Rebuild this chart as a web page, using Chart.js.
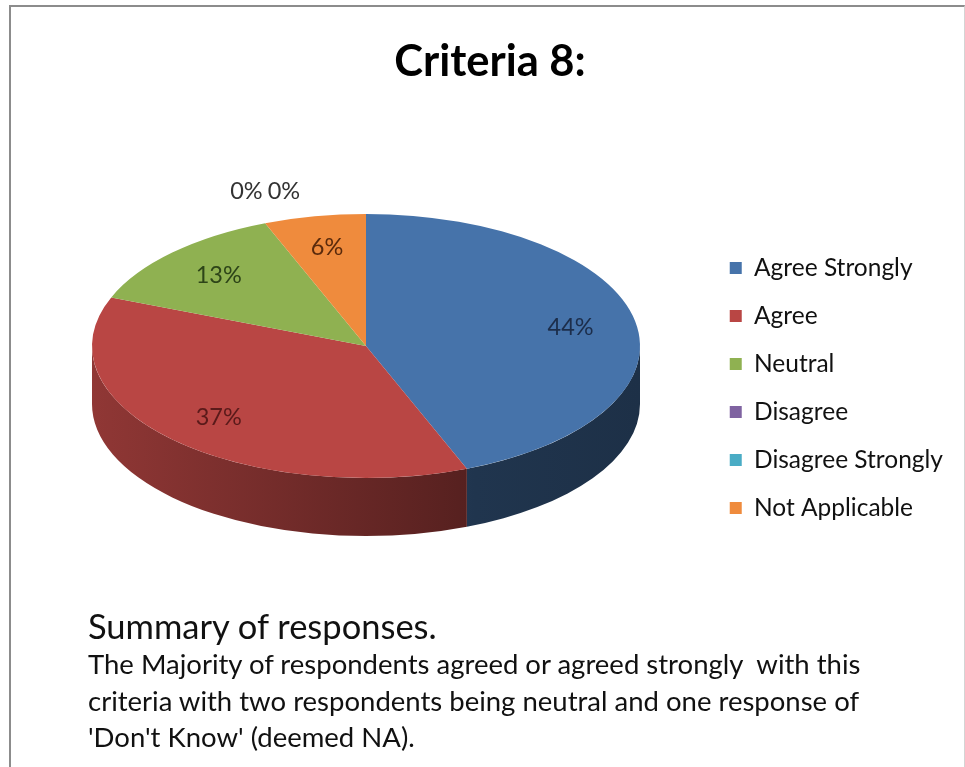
<!DOCTYPE html>
<html><head><meta charset="utf-8">
<script src="https://cdn.jsdelivr.net/npm/chart.js@4.4.1/dist/chart.umd.min.js"></script>
<style>
html,body{margin:0;padding:0;background:#fff;width:965px;height:767px;overflow:hidden;}
#frame{position:absolute;left:9px;top:5px;width:953px;height:790px;border-left:2px solid #8c8c8c;border-top:2px solid #8c8c8c;border-right:1px solid #d4d4d4;}
#c{position:absolute;left:0;top:0;}
#summary{position:absolute;left:88px;top:606px;font-family:Lato,'Open Sans',sans-serif;color:#111;}
#summary .h{font-size:34.5px;line-height:40px;}
#summary .b{font-size:27.5px;line-height:36.5px;}
</style></head><body>
<div id="frame"></div>
<canvas id="c" width="965" height="767"></canvas>
<div id="summary"><div class="h">Summary of responses.</div><div class="b">The Majority of respondents agreed or agreed strongly&nbsp; with this<br>criteria with two respondents being neutral and one response of<br>'Don't Know' (deemed NA).</div></div>
<script>
const chartTitle = 'Criteria 8:';
const categories = ['Agree Strongly', 'Agree', 'Neutral', 'Disagree', 'Disagree Strongly', 'Not Applicable'];
const percentages = [44, 37, 13, 0, 0, 6];
const sliceColors = ['#4673aa', '#b94644', '#8fb151', '#7f63a1', '#4aacc5', '#ef8b3d'];
const labelColors = ['#1c2d4a', '#5a1a1a', '#2d4418', '#333333', '#333333', '#5a2a0c'];

const VIEW = {cx: 366, cy: 346, tilt: 0.482, depth: 58, labelFrac: 0.76};

function shade(hex, f) {
  const n = parseInt(hex.slice(1), 16);
  const r = Math.round(((n >> 16) & 255) * f), g = Math.round(((n >> 8) & 255) * f), b = Math.round((n & 255) * f);
  return `rgb(${r},${g},${b})`;
}

const pie3d = {
  id: 'pie3d',
  beforeDatasetsDraw(chart) {
    const ctx = chart.ctx;
    const meta = chart.getDatasetMeta(0);
    const arc0 = meta.data[0];
    const rx = arc0.outerRadius, ry = rx * VIEW.tilt;
    const {cx, cy, depth} = VIEW;
    meta.data.forEach((arc) => {
      const a = Math.max(arc.startAngle, 0), b = Math.min(arc.endAngle, Math.PI);
      if (b <= a) return;
      const col = arc.options.backgroundColor;
      const g = ctx.createLinearGradient(cx - rx, 0, cx + rx, 0);
      g.addColorStop(0, shade(col, 0.78));
      g.addColorStop(0.7, shade(col, 0.46));
      g.addColorStop(1, shade(col, 0.42));
      ctx.beginPath();
      ctx.ellipse(cx, cy, rx, ry, 0, a, b, false);
      ctx.ellipse(cx, cy + depth, rx, ry, 0, b, a, true);
      ctx.closePath();
      ctx.fillStyle = g;
      ctx.fill();
    });
    ctx.save();
    ctx.translate(cx, cy);
    ctx.scale(1, VIEW.tilt);
    ctx.translate(-arc0.x, -arc0.y);
  },
  afterDatasetsDraw(chart) {
    const ctx = chart.ctx;
    ctx.restore();
    const meta = chart.getDatasetMeta(0);
    const data = chart.data.datasets[0].data;
    const total = data.reduce((s, v) => s + v, 0);
    const rx = meta.data[0].outerRadius, ry = rx * VIEW.tilt;
    const {cx, cy} = VIEW;
    ctx.save();
    ctx.font = '23.5px Lato';
    ctx.textAlign = 'center';
    ctx.textBaseline = 'middle';
    const zeros = [];
    meta.data.forEach((arc, i) => {
      const txt = Math.round(data[i] / total * 100) + '%';
      const m = (arc.startAngle + arc.endAngle) / 2;
      if (data[i] === 0) { zeros.push({i, txt, m}); return; }
      const f = VIEW.labelFrac;
      ctx.fillStyle = labelColors[i];
      ctx.fillText(txt, cx + f * rx * Math.cos(m), cy + f * ry * Math.sin(m));
    });
    if (zeros.length) {
      const m = zeros[0].m;
      const bx = cx + rx * Math.cos(m), by = cy + ry * Math.sin(m) - 32;
      const widths = zeros.map(z => ctx.measureText(z.txt).width);
      const gap = 5;
      const totalW = widths.reduce((s, w) => s + w, 0) + gap * (zeros.length - 1);
      let x = bx - totalW / 2;
      zeros.forEach((z, k) => {
        ctx.fillStyle = labelColors[z.i];
        ctx.fillText(z.txt, x + widths[k] / 2, by);
        x += widths[k] + gap;
      });
    }
    ctx.restore();
  }
};

new Chart(document.getElementById('c'), {
  type: 'pie',
  data: {
    labels: categories,
    datasets: [{
      data: percentages,
      backgroundColor: sliceColors,
      borderWidth: 0,
      radius: 274
    }]
  },
  options: {
    responsive: false,
    animation: false,
    events: [],
    layout: {padding: {top: 10, left: 27, right: 12, bottom: 1}},
    plugins: {
      title: {
        display: true,
        text: chartTitle,
        color: '#000',
        font: {family: 'Lato', size: 43.5, weight: 'bold'},
        padding: {top: 26, bottom: 10}
      },
      legend: {
        display: true,
        position: 'right',
        align: 'center',
        labels: {
          color: '#111',
          font: {family: 'Lato', size: 24.5},
          boxWidth: 12,
          boxHeight: 12,
          padding: 23.5
        }
      },
      tooltip: {enabled: false}
    }
  },
  plugins: [pie3d]
});
</script>
</body></html>
